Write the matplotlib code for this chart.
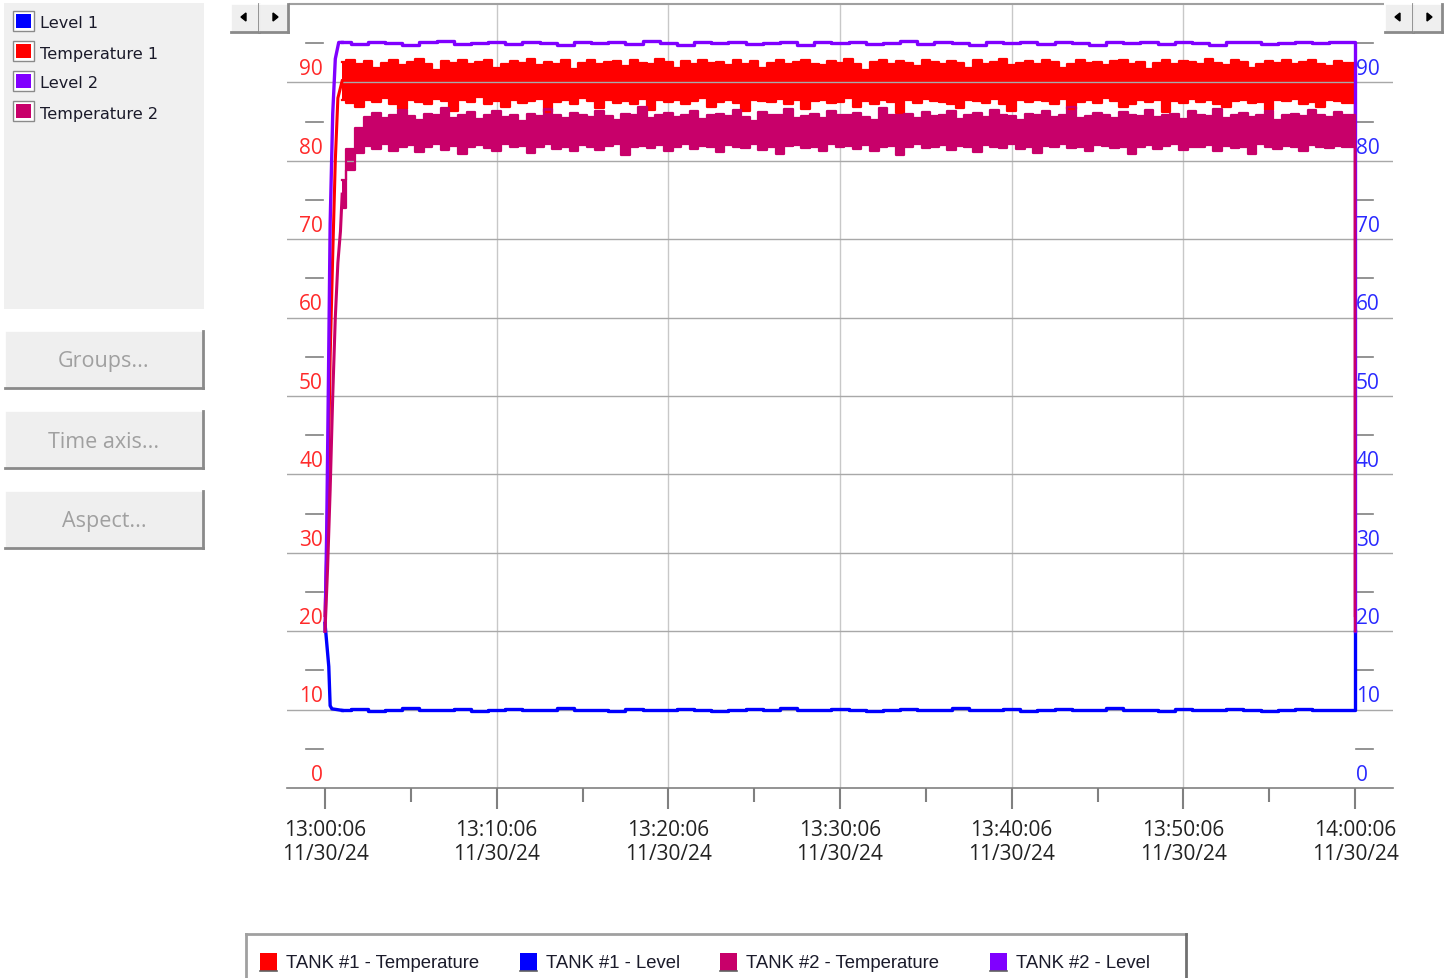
import matplotlib
matplotlib.use("Agg")
import matplotlib.pyplot as plt
import numpy as np
from matplotlib.patches import Rectangle, Polygon
from matplotlib.lines import Line2D
from matplotlib.transforms import blended_transform_factory

# ---- data (minutes after 13:00:06) ----
x_labels = ["13:00:06\n11/30/24", "13:10:06\n11/30/24", "13:20:06\n11/30/24",
            "13:30:06\n11/30/24", "13:40:06\n11/30/24", "13:50:06\n11/30/24",
            "14:00:06\n11/30/24"]
y_labels = [0, 10, 20, 30, 40, 50, 60, 70, 80, 90]

legend_left = ["Level 1", "Temperature 1", "Level 2", "Temperature 2"]
legend_bottom = ["TANK #1 - Temperature", "TANK #1 - Level", "TANK #2 - Temperature", "TANK #2 - Level"]
buttons = ["Groups...", "Time axis...", "Aspect..."]

# start-up transients
temp1_rise_t = [0, 0.1, 0.2, 0.3, 0.45, 0.6, 0.75]
temp1_rise = [22, 30, 42, 55, 68, 80, 88]
temp2_rise_t = [0, 0.15, 0.3, 0.45, 0.6, 0.75, 0.9]
temp2_rise = [20, 28, 38, 50, 60, 67, 71]
lvl1_rise_t = [0, 0.12, 0.22, 0.3, 0.4]
lvl1_rise = [21, 18, 15.5, 10.5, 10.1]
lvl2_rise_t = [0, 0.1, 0.2, 0.3, 0.45, 0.6, 0.8]
lvl2_rise = [20, 33, 52, 72, 86, 93, 95.1]

# noisy bands, every 30 s from 1:00 to 59:30 (upper / lower envelope)
temp1_hi = [92.6, 92.9, 92.3, 92.7, 91.8, 92.5, 92.8, 92.2, 92.6, 93.0,
            92.4, 91.6, 92.7, 92.5, 92.9, 92.3, 92.6, 92.8, 91.9, 92.4,
            92.7, 92.5, 93.0, 92.2, 92.6, 92.4, 92.8, 91.7, 92.5, 92.9,
            92.3, 92.6, 92.7, 92.1, 92.8, 92.5, 92.4, 93.0, 92.6, 91.9,
            92.7, 92.3, 92.8, 92.5, 92.6, 92.2, 92.9, 92.4, 92.7, 91.8,
            92.5, 92.8, 92.3, 92.6, 92.9, 92.4, 92.2, 92.7, 92.5, 93.0,
            92.3, 91.6, 92.6, 92.8, 92.4, 92.7, 92.5, 92.1, 92.9, 92.6,
            92.3, 92.7, 92.5, 91.9, 92.8, 92.4, 92.6, 93.0, 92.2, 92.5,
            92.7, 92.3, 92.9, 92.6, 91.8, 92.4, 92.8, 92.5, 92.6, 92.2,
            92.7, 92.9, 92.4, 92.6, 91.7, 92.5, 92.8, 92.3, 92.7, 92.6,
            92.4, 93.0, 92.5, 92.2, 92.8, 92.6, 91.9, 92.4, 92.7, 92.5,
            92.9, 92.3, 92.6, 92.8, 92.4, 92.1, 92.7, 92.5]
temp1_lo = [87.8, 87.4, 86.9, 87.7, 87.5, 88.0, 87.3, 86.6, 87.8, 87.5,
            87.2, 87.9, 87.6, 86.4, 87.7, 87.5, 88.1, 87.3, 87.6, 86.8,
            87.8, 87.4, 87.6, 87.9, 86.2, 87.5, 87.7, 87.3, 88.0, 87.6,
            86.7, 87.8, 87.4, 87.6, 87.2, 87.9, 86.5, 87.7, 87.5, 87.8,
            87.3, 87.6, 88.0, 86.9, 87.5, 87.7, 87.4, 86.3, 87.8, 87.6,
            87.5, 87.9, 87.2, 87.7, 86.6, 87.6, 87.8, 87.4, 87.5, 88.0,
            86.8, 87.6, 87.3, 87.8, 87.5, 86.1, 87.7, 87.4, 87.9, 87.6,
            87.5, 87.2, 86.7, 87.8, 87.6, 87.4, 87.9, 87.3, 86.4, 87.7,
            87.5, 87.8, 87.6, 87.2, 87.9, 86.6, 87.5, 87.7, 87.4, 88.0,
            87.6, 86.9, 87.3, 87.8, 87.5, 87.7, 86.2, 87.6, 87.4, 87.9,
            87.5, 87.7, 87.3, 86.8, 87.6, 87.8, 87.4, 87.5, 86.5, 87.7,
            87.6, 87.9, 87.3, 87.5, 86.9, 87.8, 87.6, 87.4]
temp2_hi = [77.5, 81.5, 84.2, 85.6, 86.1, 85.4, 85.9, 86.5, 85.7, 85.2,
            86.0, 85.8, 86.7, 85.5, 85.9, 86.2, 85.3, 85.8, 86.4, 85.6,
            85.9, 85.1, 86.0, 85.7, 86.6, 85.8, 85.4, 86.1, 85.9, 85.6,
            86.3, 85.7, 85.2, 86.0, 85.8, 86.8, 85.5, 85.9, 86.1, 85.6,
            85.8, 86.4, 85.3, 85.9, 86.0, 85.7, 86.5, 85.6, 85.1, 86.2,
            85.8, 85.9, 86.6, 85.5, 85.7, 86.0, 85.4, 86.3, 85.8, 85.9,
            86.1, 85.6, 85.2, 86.7, 85.8, 85.9, 86.0, 85.5, 86.2, 85.7,
            85.9, 86.4, 85.3, 85.8, 86.1, 85.6, 86.5, 85.9, 85.7, 85.2,
            86.0, 85.8, 86.3, 85.6, 85.9, 86.8, 85.5, 85.7, 86.1, 85.8,
            85.4, 86.2, 85.9, 85.7, 86.5, 85.6, 85.8, 86.0, 85.3, 86.3,
            85.9, 85.7, 86.6, 85.5, 85.8, 86.1, 85.6, 85.9, 86.4, 85.2,
            85.8, 86.0, 85.7, 86.5, 85.9, 85.6, 86.2, 85.8]
temp2_lo = [74.0, 78.8, 81.0, 81.9, 81.5, 82.1, 81.3, 81.8, 82.0, 81.1,
            81.7, 82.2, 81.4, 81.9, 80.9, 81.8, 82.0, 81.6, 81.3, 82.1,
            81.7, 81.9, 81.0, 81.8, 82.2, 81.5, 81.8, 81.2, 82.0, 81.7,
            81.4, 81.9, 82.1, 80.8, 81.7, 81.9, 81.6, 82.0, 81.3, 81.8,
            82.1, 81.5, 81.9, 81.7, 81.1, 82.0, 81.8, 81.6, 82.2, 81.4,
            81.7, 80.9, 81.9, 82.0, 81.6, 81.8, 81.3, 82.1, 81.7, 81.9,
            81.5, 82.0, 81.2, 81.8, 81.9, 80.8, 81.7, 82.1, 81.6, 81.8,
            82.0, 81.4, 81.9, 81.7, 81.1, 82.0, 81.8, 81.6, 82.2, 81.5,
            81.8, 81.0, 81.9, 81.7, 82.1, 81.6, 81.8, 81.3, 82.0, 81.9,
            81.6, 81.8, 80.9, 81.7, 82.0, 81.5, 81.9, 82.1, 81.4, 81.8,
            81.7, 82.0, 81.2, 81.9, 81.6, 81.8, 80.9, 82.1, 81.7, 81.5,
            81.9, 81.8, 81.3, 82.0, 81.7, 81.6, 81.9, 81.8]
# levels, once a minute from 1:00 to 59:00
lvl1 = [9.9, 10.1, 9.8, 10.0, 10.2, 9.9, 10.0, 10.1, 9.8, 10.0,
        10.1, 9.9, 10.0, 10.2, 9.9, 10.0, 9.8, 10.1, 10.0, 9.9,
        10.1, 10.0, 9.8, 10.0, 10.1, 9.9, 10.2, 10.0, 9.9, 10.1,
        10.0, 9.8, 10.0, 10.1, 9.9, 10.0, 10.2, 9.9, 10.0, 10.1,
        9.8, 10.0, 10.1, 9.9, 10.0, 10.2, 9.9, 10.0, 9.8, 10.1,
        10.0, 9.9, 10.1, 10.0, 9.8, 10.0, 10.1, 9.9, 10.0]
lvl2 = [95.1, 94.9, 95.2, 95.0, 94.8, 95.1, 95.3, 94.9, 95.0, 95.2,
        94.9, 95.1, 95.0, 94.8, 95.2, 95.0, 95.1, 94.9, 95.3, 95.0,
        94.8, 95.1, 95.0, 95.2, 94.9, 95.0, 95.1, 94.8, 95.2, 95.0,
        95.1, 94.9, 95.0, 95.3, 94.9, 95.1, 95.0, 94.8, 95.2, 95.0,
        95.1, 94.9, 95.2, 95.0, 94.8, 95.1, 95.0, 95.2, 94.9, 95.1,
        95.0, 94.8, 95.2, 95.1, 94.9, 95.0, 95.2, 95.0, 95.1]
# values after the reset at 14:00:06
temp1_end, temp2_end, lvl1_end, lvl2_end = 22, 20, 20, 20

BLUE, RED, PURPLE, CRIMSON = "#0000FF", "#FF0000", "#8000FF", "#C8006A"
colors_left = [BLUE, RED, PURPLE, CRIMSON]
colors_bottom = [RED, BLUE, CRIMSON, PURPLE]

W, H = 1452, 979
def fx(x): return x / W
def fy(y): return 1 - y / H

fig = plt.figure(figsize=(W / 100, H / 100), dpi=100)

def rect(x0, y0, x1, y1, **kw):
    r = Rectangle((fx(x0), fy(y1)), fx(x1) - fx(x0), (y1 - y0) / H,
                  transform=fig.transFigure, **kw)
    fig.add_artist(r)

def seg(x0, y0, x1, y1, color, lw=1.0):
    fig.add_artist(Line2D([fx(x0), fx(x1)], [fy(y0), fy(y1)], color=color, lw=lw,
                          transform=fig.transFigure))

def button3d(x0, y0, x1, y1):
    rect(x0, y0, x1, y1, facecolor="#EFEFEF", edgecolor="none")
    seg(x0, y0, x1, y0, "#FFFFFF", 1.2)
    seg(x0, y0, x0, y1, "#FFFFFF", 1.2)
    seg(x0, y1, x1, y1, "#8A8A8A", 2.0)
    seg(x1, y0, x1, y1, "#8A8A8A", 2.0)

# ---- main axes ----
px_per_min = (1355 - 325) / 60
ax = fig.add_axes([fx(287), fy(789), fx(1393) - fx(287), (789 - 5) / H])
ax.set_xlim(-(325 - 287) / px_per_min, 60 + (1393 - 1355) / px_per_min)
ax.set_ylim(0, 100)
for s in ("top", "left", "right"):
    ax.spines[s].set_visible(False)
ax.spines["bottom"].set_color("#808080")
ax.spines["bottom"].set_linewidth(1.2)

xt = np.arange(len(x_labels)) * 10
ax.set_xticks(xt)
ax.set_xticklabels(x_labels, fontsize=15, family="Open Sans", color="#222222", linespacing=1.2)
ax.set_xticks(xt[:-1] + 5, minor=True)
ax.tick_params(axis="x", which="major", length=15, width=1.5, color="#808080", pad=7)
ax.tick_params(axis="x", which="minor", length=10, width=1.5, color="#808080")
ax.set_yticks(y_labels[1:])
ax.tick_params(axis="y", length=0, labelleft=False)
ax.yaxis.grid(True, color="#A8A8A8", lw=1.0)
for v in xt[1:-1]:
    ax.axvline(v, color="#C8C8C8", lw=1.0, zorder=0)

# y labels and short marks outside the plot
trans = blended_transform_factory(fig.transFigure, ax.transData)
for v in y_labels:
    ax.text(fx(323), v + 1.75, str(v), transform=trans, ha="right", va="center",
            fontsize=15, family="Open Sans", color="#FF2A2A", clip_on=False)
    ax.text(fx(1356), v + 1.75, str(v), transform=trans, ha="left", va="center",
            fontsize=15, family="Open Sans", color="#2A2AFF", clip_on=False)
    ax.plot([fx(306), fx(323)], [v + 5, v + 5], transform=trans, color="#808080", lw=1.2, clip_on=False)
    ax.plot([fx(1356), fx(1373)], [v + 5, v + 5], transform=trans, color="#808080", lw=1.2, clip_on=False)

# ---- traces ----
t_band = np.arange(1.0, 59.6, 0.5)
t_min = np.arange(1, 60)

def level_trace(rise_t, rise, vals, end, color):
    ax.plot(list(rise_t) + [t_min[0]], list(rise) + [vals[0]], color=color, lw=2.4)
    t = np.concatenate([t_min, [60, 60]])
    ax.plot(t, np.concatenate([vals, [vals[-1], end]]), color=color, lw=2.4, drawstyle="steps-mid")

def temp_trace(rise_t, rise, hi_v, lo_v, end, color):
    mid0 = (hi_v[0] + lo_v[0]) / 2
    ax.plot(list(rise_t) + [t_band[0]], list(rise) + [mid0], color=color, lw=2.2)
    t = np.concatenate([t_band, [60, 60]])
    hi = np.concatenate([hi_v, [hi_v[-1], end]])
    lo = np.concatenate([lo_v, [lo_v[-1], end]])
    ax.fill_between(t, lo, hi, color=color, lw=0, step="mid")
    ax.plot(t, hi, color=color, lw=1.6, drawstyle="steps-mid")
    ax.plot(t, lo, color=color, lw=1.6, drawstyle="steps-mid")

level_trace(lvl1_rise_t, lvl1_rise, lvl1, lvl1_end, BLUE)
temp_trace(temp1_rise_t, temp1_rise, temp1_hi, temp1_lo, temp1_end, RED)
level_trace(lvl2_rise_t, lvl2_rise, lvl2, lvl2_end, PURPLE)
temp_trace(temp2_rise_t, temp2_rise, temp2_hi, temp2_lo, temp2_end, CRIMSON)

# top frame line
seg(290, 5, 1383, 5, "#A0A0A0", 1.5)

# ---- left panel ----
rect(4, 4, 204, 310, facecolor="#F0F0F0", edgecolor="none")
for i, (name, c) in enumerate(zip(legend_left, colors_left)):
    yc = 22 + 30 * i
    rect(13, yc - 10, 34, yc + 10, facecolor="#FFFFFF", edgecolor="#8A8A8A", lw=1.0)
    rect(16, yc - 7, 31, yc + 7, facecolor=c, edgecolor="none")
    fig.text(fx(40), fy(yc + 2), name, ha="left", va="center", fontsize=11.6,
             family="DejaVu Sans", color="#1A1A2A")

for i, name in enumerate(buttons):
    y0 = 332 + 80 * i
    button3d(5, y0, 203, y0 + 57)
    fig.text(fx(104), fy(y0 + 30), name, ha="center", va="center", fontsize=15.5,
             family="Open Sans", color="#A0A0A0")

# ---- scroll buttons ----
for x0 in (231, 260, 1385, 1414):
    button3d(x0, 5, x0 + 28, 33)
for xc, d in ((244, -1), (275, 1), (1398, -1), (1429, 1)):
    pts = [(fx(xc + 3 * d), fy(18)), (fx(xc - 2 * d), fy(14)), (fx(xc - 2 * d), fy(22))]
    fig.add_artist(Polygon(pts, closed=True, color="black", transform=fig.transFigure))

# ---- bottom legend ----
seg(246, 935, 1186, 935, "#A0A0A0", 2.0)
seg(246, 935, 246, 979, "#A0A0A0", 2.0)
seg(1186, 935, 1186, 979, "#707070", 2.0)
for name, c, xs in zip(legend_bottom, colors_bottom, (260, 520, 720, 990)):
    rect(xs, 954, xs + 17, 972, facecolor=c, edgecolor="none")
    seg(xs, 972, xs + 17, 972, "#606060", 1.2)
    fig.text(fx(xs + 26), fy(964), name, ha="left", va="center", fontsize=13.3,
             family="Liberation Sans", color="#1A1A2A")

fig.savefig("out.png", dpi=100)
